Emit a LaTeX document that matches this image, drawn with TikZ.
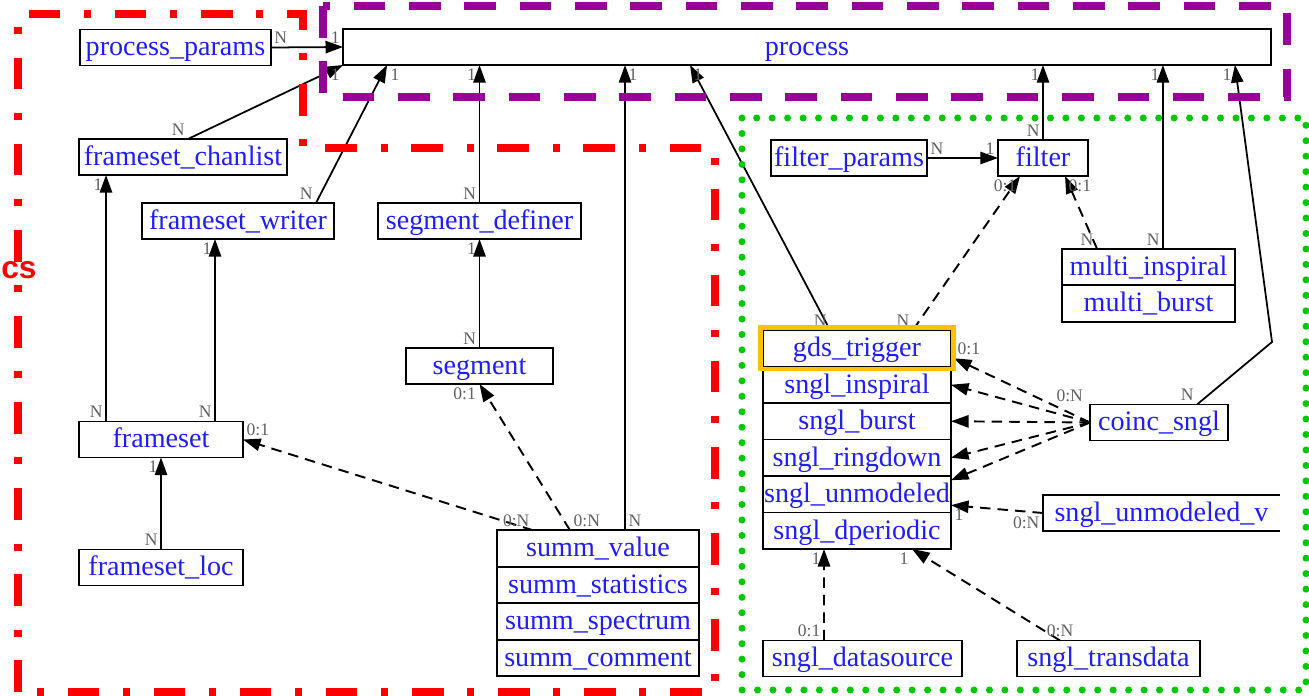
\documentclass[tikz,border=0pt]{standalone}
\usepackage{fontspec}
\setmainfont{Liberation Serif}
\newfontfamily\grpfont{Liberation Sans}
\usetikzlibrary{arrows.meta,positioning}
\definecolor{entblue}{RGB}{30,30,245}
\definecolor{cardgray}{RGB}{95,95,95}
\definecolor{grpred}{RGB}{255,0,0}
\definecolor{grppurple}{RGB}{150,0,150}
\definecolor{grpgreen}{RGB}{0,200,0}
\definecolor{hilite}{RGB}{255,192,0}
\newcommand{\entfont}{\fontsize{16}{18}\selectfont}
\newcommand{\cardfont}{\fontsize{10}{11}\selectfont}
\tikzset{
  entity box/.style={draw,line width=1.1pt,fill=white,inner sep=0pt,outer sep=0pt,minimum height=0.72cm,
    text height=12pt,text depth=2.4pt,text=entblue,font=\entfont},
  table row/.style={entity box,minimum height=0.73cm},
  link line/.style={line width=1pt,-{Triangle[length=10pt,width=7pt]}},
  option link/.style={link line,line width=1.1pt,dash pattern=on 6pt off 4pt},
  card label/.style={font=\cardfont,text=cardgray,inner sep=1.5pt},
  diag group/.style={line width=4pt,grpred,dash pattern=on 18pt off 13.5pt on 4pt off 13.5pt},
  proc group/.style={line width=4pt,grppurple,dash pattern=on 18pt off 13.5pt},
  trig group/.style={line width=4pt,grpgreen,line cap=round,dash pattern=on 0pt off 8.8pt},
  trigger mark/.style={line width=2.8pt,hilite},
}

\begin{document}
\begin{tikzpicture}[x=0.02cm,y=-0.02cm]
\useasboundingbox (0,0) rectangle (1309,696);
% process tables
\node[entity box,minimum width=18.56cm] (proc) at (807,47) {process};
\node[entity box,minimum width=3.82cm] (pparams) at (175.5,47.5) {process\_params};
% frameset and segment tables
\node[entity box,minimum width=4.16cm] (fchan) at (183,157) {frameset\_chanlist};
\node[entity box,minimum width=3.84cm] (fwriter) at (238,221) {frameset\_writer};
\node[entity box,minimum width=4.06cm] (sdef) at (479.5,221) {segment\_definer};
\node[entity box,minimum width=2.94cm] (seg) at (479.5,366) {segment};
\node[entity box,minimum width=3.28cm] (fset) at (161,439.5) {frameset};
\node[entity box,minimum width=3.28cm] (floc) at (161,567.5) {frameset\_loc};
\node[table row,minimum width=4.04cm] (svalue) at (598,548.5) {summ\_value};
\node[table row,minimum width=4.04cm,below=0pt of svalue] (sstat) {summ\_statistics};
\node[table row,minimum width=4.04cm,below=0pt of sstat] (sspec) {summ\_spectrum};
\node[table row,minimum width=4.04cm,below=0pt of sspec] (scomm) {summ\_comment};
% trigger tables
\node[entity box,minimum width=3.12cm] (fparams) at (849,158) {filter\_params};
\node[entity box,minimum width=1.8cm] (filter) at (1043,158) {filter};
\node[table row,minimum width=3.46cm] (minsp) at (1148.5,267) {multi\_inspiral};
\node[table row,minimum width=3.46cm,below=0pt of minsp] (mburst) {multi\_burst};
\node[table row,minimum width=3.76cm] (gds) at (857,348.25) {gds\_trigger};
\node[table row,minimum width=3.76cm,below=0pt of gds] (sinsp) {sngl\_inspiral};
\node[table row,minimum width=3.76cm,below=0pt of sinsp] (sburst) {sngl\_burst};
\node[table row,minimum width=3.76cm,below=0pt of sburst] (sring) {sngl\_ringdown};
\node[table row,minimum width=3.76cm,below=0pt of sring] (sunmod) {sngl\_unmodeled};
\node[table row,minimum width=3.76cm,below=0pt of sunmod] (sdper) {sngl\_dperiodic};
\node[entity box,minimum width=2.76cm] (coinc) at (1159,422.5) {coinc\_sngl};
\node[entity box,draw=none,anchor=west,minimum width=4.74cm] (unmodv) at (1043,513) {sngl\_unmodeled\_v};
\draw[line width=1.1pt] (unmodv.north east) -- (unmodv.north west) -- (unmodv.south west) -- (unmodv.south east);
\node[entity box,minimum width=3.98cm] (sdsrc) at (862.5,658.5) {sngl\_datasource};
\node[entity box,minimum width=3.66cm] (strans) at (1108.5,658.5) {sngl\_transdata};
\coordinate (bend) at (1272,342);

% links to process
\draw[link line] (pparams.east) -- node[card label,at start,above right]{N} node[card label,at end,above left]{1} (proc.west);
\draw[link line] ([xshift=0.1cm]fchan.north) -- node[card label,at start,above left]{N} node[card label,at end,below left]{1} (proc.south west);
\draw[link line] ([xshift=1.56cm]fwriter.north) -- node[card label,at start,above left]{N} node[card label,at end,below right]{1} ([xshift=-8.4cm]proc.south);
\draw[link line] (sdef.north) -- node[card label,at start,above left]{N} node[card label,at end,below left]{1} (sdef.north |- proc.south);
\draw[link line] ([xshift=0.54cm]svalue.north) -- node[card label,at start,above right]{N} node[card label,at end,below right]{1} ([xshift=-3.64cm]proc.south);
\draw[link line] ([xshift=-0.54cm]gds.north) -- node[card label,at start,above left]{N} node[card label,at end,below right]{1} ([xshift=-2.34cm]proc.south);
\draw[link line] (filter.north) -- node[card label,at start,above left]{N} node[card label,at end,below left]{1} (filter.north |- proc.south);
\draw[link line] ([xshift=0.29cm]minsp.north) -- node[card label,at start,above left]{N} node[card label,at end,below left]{1} ([xshift=7.12cm]proc.south);
\draw[link line] ([xshift=0.76cm]coinc.north) -- node[card label,at start,above left]{N} (bend) -- node[card label,at end,below left]{1} ([xshift=8.56cm]proc.south);

% left side links
\draw[link line] ([xshift=-1.1cm]fset.north) -- node[card label,at start,above left]{N} node[card label,at end,below left]{1} ([xshift=-1.54cm]fchan.south);
\draw[link line] ([xshift=1.08cm]fset.north) -- node[card label,at start,above left]{N} node[card label,at end,below left]{1} ([xshift=-0.46cm]fwriter.south);
\draw[link line] (floc.north) -- node[card label,at start,above left]{N} node[card label,at end,below left]{1} (fset.south);
\draw[link line] (seg.north) -- node[card label,at start,above left]{N} node[card label,at end,below left]{1} (sdef.south);
\draw[option link] ([xshift=-0.56cm]svalue.north) -- node[card label,at start,above right]{0:N} node[card label,at end,below left]{0:1} (seg.south);
\draw[option link] ([xshift=-1.3cm]svalue.north) -- node[card label,at start,above left]{0:N} node[card label,at end,above right]{0:1} (fset.east);

% trigger links
\draw[link line] (fparams.east) -- node[card label,at start,above right]{N} node[card label,at end,above left]{1} (filter.west);
\draw[option link] ([xshift=1.12cm]gds.north) -- node[card label,at start,above left]{N} node[card label,at end,below left]{0:1} ([xshift=-0.46cm]filter.south);
\draw[option link] ([xshift=-1.03cm]minsp.north) -- node[card label,at start,above left]{N} node[card label,at end,below right]{0:1} ([xshift=0.44cm]filter.south);
\draw[option link] (coinc.west) -- node[card label,at start,above left=10pt and 2pt]{0:N} node[card label,at end,above right]{0:1} ([xshift=0.06cm,yshift=-0.2cm]gds.east);
\draw[option link] (coinc.west) -- (sinsp.east);
\draw[option link] (coinc.west) -- (sburst.east);
\draw[option link] (coinc.west) -- (sring.east);
\draw[option link] (coinc.west) -- ([yshift=0.28cm]sunmod.east);
\draw[option link] (unmodv.west) -- node[card label,at start,below left]{0:N} node[card label,at end,below right]{1} ([yshift=-0.22cm]sunmod.east);
\draw[option link] ([xshift=-0.77cm]sdsrc.north) -- node[card label,at start,above left]{0:1} node[card label,at end,below left]{1} ([xshift=-0.66cm]sdper.south);
\draw[option link] ([xshift=-0.97cm]strans.north) -- node[card label,at start,above]{0:N} node[card label,at end,below left]{1} ([xshift=1.1cm]sdper.south);

\draw[trigger mark] ([shift={(-2.5,-2.5)}]gds.north west) rectangle ([shift={(2.5,2.5)}]gds.south east);

% groups
\draw[diag group] (18,692) -- (18,14) -- (303,14) -- (303,148) -- (715,148) -- (715,692) -- cycle;
\draw[proc group] (323,6) rectangle (1287,97);
\draw[trig group] (742,118) rectangle (1306,690);
\node[anchor=west,inner sep=0pt,text=grpred,font=\grpfont\bfseries\fontsize{18}{20}\selectfont] (diag name) at (1,270) {cs};
\end{tikzpicture}
\end{document}
